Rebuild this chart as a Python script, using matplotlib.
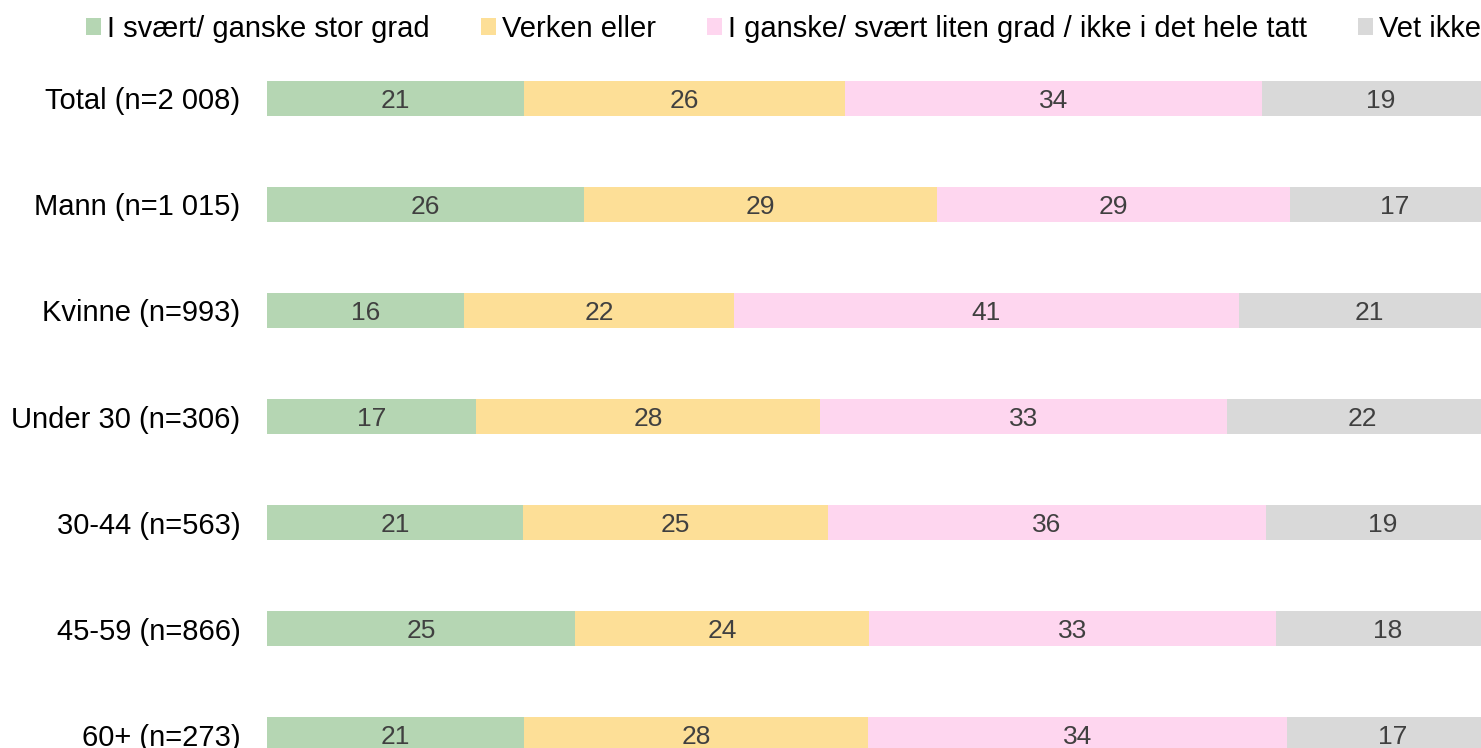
import matplotlib.pyplot as plt
import numpy as np

plt.rcParams['font.family'] = ['Liberation Sans', 'DejaVu Sans']

groups = ['Total (n=2 008)', 'Mann (n=1 015)', 'Kvinne (n=993)', 'Under 30 (n=306)',
          '30-44 (n=563)', '45-59 (n=866)', '60+ (n=273)']
series = ['I svært/ ganske stor grad', 'Verken eller',
          'I ganske/ svært liten grad / ikke i det hele tatt', 'Vet ikke']
stor = [20.9, 25.7, 16.0, 17.0, 20.8, 25.0, 20.9]
verken = [26.0, 28.7, 21.9, 27.9, 24.7, 23.9, 27.9]
liten = [33.9, 28.6, 41.0, 33.0, 35.6, 33.0, 34.0]
vet_ikke = [19.2, 17.0, 21.1, 22.1, 18.9, 18.1, 17.1]
colors = ['#b5d6b3', '#fddf97', '#fed6ef', '#d9d9d9']

W, H = 1481, 748
fig = plt.figure(figsize=(W / 100, H / 100), dpi=100)
# plot area runs past the right and bottom edge, like the cropped original
ax = fig.add_axes([267 / W, 1 - 788 / H, 1232 / W, 743 / H])

y = np.arange(len(groups))
left = np.zeros(len(groups))
for name, vals, c in zip(series, [stor, verken, liten, vet_ikke], colors):
    vals = np.array(vals)
    ax.barh(y, vals, left=left, height=0.33, color=c, label=name)
    for yi, l, v in zip(y, left, vals):
        ax.text(l + v / 2, yi, f'{v:.0f}', ha='center', va='center_baseline',
                fontsize=19, color='#404040')
    left += vals

ax.set_xlim(0, 100)
ax.set_ylim(len(groups) - 0.5, -0.5)
ax.set_yticks(y)
ax.set_yticklabels(groups, fontsize=21)
ax.tick_params(axis='y', length=0, pad=19)
ax.set_xticks([])
for s in ax.spines.values():
    s.set_visible(False)

fig.legend(loc='center left', bbox_to_anchor=(86 / W, 1 - 29 / H), ncol=4,
           frameon=False, fontsize=21, handlelength=0.52, handleheight=0.52,
           handletextpad=0.2, columnspacing=1.75, borderpad=0, borderaxespad=0)

fig.savefig('out.png', dpi=100)
